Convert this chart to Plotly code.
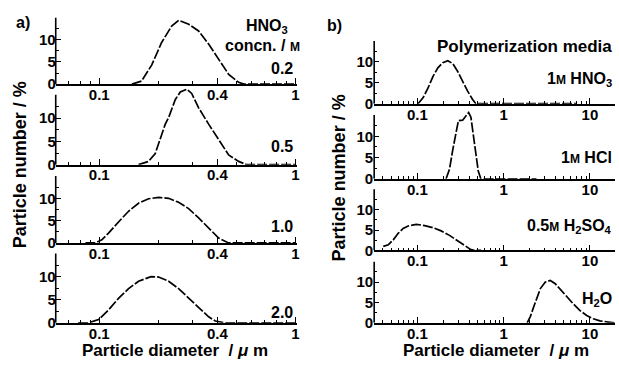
import numpy as np
import plotly.graph_objects as go

W, H = 619, 370

# ---------------- data ----------------
# panel a) : HNO3 concentration series
a_conc = ["0.2", "0.5", "1.0", "2.0"]
a1_d = [0.1467, 0.1644, 0.185, 0.208, 0.234, 0.254, 0.286, 0.321, 0.361, 0.406, 0.457, 0.514, 0.545, 1.0]
a1_v = [0, 0.7, 4.3, 9.4, 13.1, 14.4, 13.5, 12.0, 9.05, 5.7, 2.2, 0.4, 0, 0]
a2_d = [0.1586, 0.1784, 0.193, 0.2007, 0.2171, 0.2258, 0.2443, 0.259, 0.280, 0.296, 0.3212, 0.3612, 0.4062, 0.4567, 0.5136, 0.5643, 1.0]
a2_v = [0, 0.7, 2.4, 4.5, 8.7, 10.1, 14.0, 15.6, 16.2, 15.3, 12.2, 8.7, 5.25, 2.1, 0.7, 0, 0]
a3_d = [0.085, 0.0954, 0.1031, 0.1115, 0.1254, 0.1411, 0.1586, 0.1784, 0.2007, 0.2258, 0.2539, 0.2856, 0.3212, 0.3612, 0.4062, 0.4567, 1.0]
a3_v = [0, 0, 0.7, 2.2, 4.7, 7.1, 8.9, 9.9, 10.2, 10.0, 9.1, 7.7, 5.6, 3.3, 1.1, 0, 0]
a4_d = [0.078, 0.0882, 0.0992, 0.1115, 0.1254, 0.1411, 0.1586, 0.1784, 0.1837, 0.2007, 0.2258, 0.2539, 0.2856, 0.3212, 0.3612, 0.3907, 0.4395, 1.0]
a4_v = [0, 0, 0.7, 2.8, 5.3, 7.4, 9.0, 9.9, 10.0, 9.9, 9.0, 7.4, 5.3, 3.2, 1.3, 0.4, 0, 0]

# panel b) : polymerization media series
b_media = ["1<span style='font-size:12px'>M</span> HNO<sub>3</sub>",
           "1<span style='font-size:12px'>M</span> HCl",
           "0.5<span style='font-size:12px'>M</span> H<sub>2</sub>SO<sub>4</sub>",
           "H<sub>2</sub>O"]
b1_d = [0.1019, 0.1163, 0.1327, 0.1515, 0.1729, 0.1974, 0.2254, 0.2572, 0.2937, 0.3352, 0.3826, 0.4368, 0.4765, 7.0]
b1_v = [0, 1.4, 3.7, 6.5, 8.6, 9.8, 10.3, 9.6, 7.7, 5.3, 3.0, 1.0, 0, 0]
b2_d = [0.2154, 0.2357, 0.2572, 0.2808, 0.2991, 0.3352, 0.3659, 0.3929, 0.4176, 0.4485, 0.4767, 0.5078, 0.5440, 2.4]
b2_v = [0, 2.2, 6.8, 11.4, 13.7, 13.8, 14.8, 15.6, 14.5, 9.8, 5.2, 1.8, 0, 0]
b3_d = [0.0403, 0.0461, 0.0526, 0.0600, 0.0685, 0.0782, 0.0974, 0.1216, 0.1515, 0.1887, 0.2357, 0.2937, 0.3506, 0.4176, 0.4767, 0.55]
b3_v = [1.0, 1.4, 2.6, 4.2, 5.4, 6.0, 6.4, 6.1, 5.6, 4.8, 3.7, 2.4, 1.3, 0.2, 0, 0]
b4_d = [1.873, 2.043, 2.236, 2.440, 2.662, 3.040, 3.469, 3.960, 4.521, 5.398, 6.446, 7.676, 9.165, 10.94, 13.03, 16.27, 19.39]
b4_v = [0, 1.6, 4.0, 6.4, 8.4, 10.0, 10.4, 9.6, 8.2, 6.4, 4.6, 3.0, 1.8, 1.0, 0.5, 0.2, 0]

a_xticks = [0.1, 0.4, 1]
a_xticktext = ["0.1", "0.4", "1"]
a_xminor = [0.07, 0.08, 0.09, 0.2, 0.3, 0.5, 0.6, 0.7, 0.8, 0.9]
b_xticks = [0.1, 1, 10]
b_xticktext = ["0.1", "1", "10"]
b_xminor = [0.04, 0.05, 0.06, 0.07, 0.08, 0.09, 0.2, 0.3, 0.4, 0.5, 0.6, 0.7, 0.8, 0.9,
            2, 3, 4, 5, 6, 7, 8, 9]
y_ticks = [0, 5, 10]
y_minor = [2.5, 7.5, 12.5]

# ---------------- layout geometry (pixels) ----------------
FONT = "Liberation Sans"
# (zero-line y px, px per unit) per panel
a_geom = [(86.0, 4.53), (168.3, 4.76), (248.3, 4.56), (330.0, 4.73)]
b_geom = [(106.0, 4.27), (182.7, 4.34), (256.0, 4.17), (330.0, 4.17)]
YMAX = 16.6
a_xpx = (56, 298)
b_xpx = (376, 618)
a_xrange = [np.log10(0.06), np.log10(1.0) + 0.006]
b_xrange = [-1.5, 1.29]


def px2x(p):
    return p / W


def px2y(p):
    return 1 - p / H


fig = go.Figure()
series = [(a1_d, a1_v), (a2_d, a2_v), (a3_d, a3_v), (a4_d, a4_v),
          (b1_d, b1_v), (b2_d, b2_v), (b3_d, b3_v), (b4_d, b4_v)]
shapes = []
layout = {}
for i, (d, v) in enumerate(series):
    k = i + 1
    sfx = "" if k == 1 else str(k)
    left = i < 4
    y0, sc = (a_geom if left else b_geom)[i % 4]
    xpx = a_xpx if left else b_xpx
    fig.add_trace(go.Scatter(x=d, y=v, mode="lines", xaxis="x" + sfx, yaxis="y" + sfx,
                             line=dict(color="black", width=1.7, dash="10px,2px"),
                             showlegend=False, hoverinfo="skip"))
    layout["xaxis" + sfx] = dict(
        type="log", range=a_xrange if left else b_xrange,
        domain=[px2x(xpx[0]), px2x(xpx[1])], anchor="y" + sfx,
        showline=True, linecolor="black", linewidth=1.6,
        ticks="inside", ticklen=6, tickwidth=1, tickcolor="black",
        tickmode="array", tickvals=a_xticks if left else b_xticks,
        ticktext=a_xticktext if left else b_xticktext,
        minor=dict(tickmode="array", tickvals=a_xminor if left else b_xminor,
                   ticks="inside", ticklen=3, tickwidth=1, tickcolor="black", showgrid=False),
        tickfont=dict(family=FONT, size=15, color="black", weight="bold"),
        ticklabelstandoff=-4,
        showgrid=False, zeroline=False, fixedrange=True)
    layout["yaxis" + sfx] = dict(
        range=[0, YMAX], domain=[px2y(y0), px2y(y0 - YMAX * sc)], anchor="x" + sfx,
        showline=False, ticks="inside", ticklen=5, tickwidth=1, tickcolor="black",
        tickmode="array", tickvals=y_ticks,
        minor=dict(tickmode="array", tickvals=y_minor, ticks="inside", ticklen=3,
                   tickwidth=1, tickcolor="black", showgrid=False),
        tickfont=dict(family=FONT, size=15, color="black", weight="bold"),
        ticklabelstandoff=-1 if left else 0,
        showgrid=False, zeroline=False, fixedrange=True)
    shapes.append(dict(type="line", xref="x" + sfx + " domain", x0=0, x1=0,
                       yref="y" + sfx, y0=0, y1=15,
                       line=dict(color="black", width=1.6)))


def ann(text, x, y, size=15, xanchor="right", yanchor="middle", angle=0):
    return dict(text=text, x=px2x(x), y=px2y(y), xref="paper", yref="paper",
                xanchor=xanchor, yanchor=yanchor, showarrow=False, textangle=angle,
                font=dict(family=FONT, size=size, color="black", weight="bold"))


annotations = [
    ann("a)", 14, 23, size=16, xanchor="left"),
    ann("b)", 327, 26, size=16, xanchor="left"),
    ann("HNO<sub>3</sub>", 291, 27, size=16),
    ann("concn. / <span style='font-size:12px'>M</span>", 303, 46, size=16),
    ann("Polymerization media", 617, 48, size=17),
    ann("Particle number / %", 20, 168, size=18, xanchor="center", angle=-90),
    ann("Particle number / %", 341, 182, size=18, xanchor="center", angle=-90),
    ann("Particle diameter  / <i>μ</i> m", 176, 358, size=17, xanchor="center"),
    ann("Particle diameter  / <i>μ</i> m", 498, 358, size=17, xanchor="center"),
]
a_lab_y = [70, 150, 232, 319]
for t, yy in zip(a_conc, a_lab_y):
    annotations.append(ann(t, 296, yy, size=16))
b_lab_y = [81, 161, 232, 306]
for t, yy in zip(b_media, b_lab_y):
    annotations.append(ann(t, 617, yy, size=16))

fig.update_layout(width=W, height=H, margin=dict(l=0, r=0, t=0, b=0),
                  paper_bgcolor="white", plot_bgcolor="rgba(0,0,0,0)",
                  shapes=shapes, annotations=annotations, showlegend=False,
                  **layout)
fig.write_html("out.html", config={"displayModeBar": False},
               post_script="document.body.style.margin='0';document.body.style.padding='0';")
